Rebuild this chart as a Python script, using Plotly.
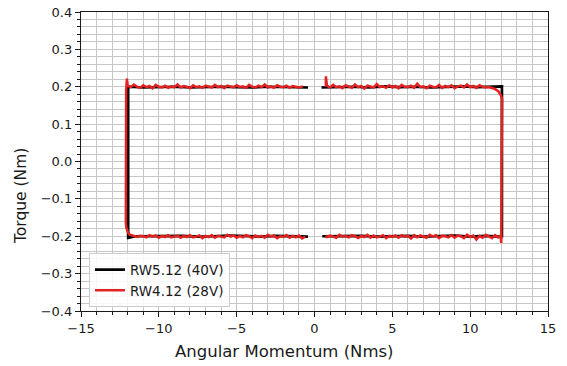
import plotly.graph_objects as go

# ---------------- data ----------------
# RW5.12 (40V) - black
bk_a_x = [0.45, 1.5, 2.5, 3.5, 4.5, 5.5, 6.5, 7.5, 8.5, 9.5, 10.5, 11.5, 11.9, 12.04, 12.04, 11.9, 11.0, 10.0, 9.0, 8.0, 7.0, 6.0, 5.0, 4.0, 3.0, 2.0, 1.0, 0.5]
bk_a_y = [0.198, 0.199, 0.200, 0.198, 0.201, 0.199, 0.200, 0.198, 0.199, 0.201, 0.199, 0.200, 0.202, 0.201, -0.200, -0.201, -0.199, -0.201, -0.198, -0.200, -0.201, -0.199, -0.200, -0.201, -0.199, -0.200, -0.201, -0.200]
bk_b_x = [-0.42, -1.5, -2.5, -3.5, -4.5, -5.5, -6.5, -7.5, -8.5, -9.5, -10.5, -11.5, -11.85, -11.97, -11.97, -11.9, -11.0, -10.0, -9.0, -8.0, -7.0, -6.0, -5.0, -4.0, -3.0, -2.0, -1.0, -0.42]
bk_b_y = [-0.201, -0.200, -0.199, -0.201, -0.200, -0.198, -0.200, -0.201, -0.199, -0.200, -0.201, -0.200, -0.203, -0.204, 0.199, 0.200, 0.198, 0.199, 0.200, 0.198, 0.199, 0.200, 0.199, 0.198, 0.200, 0.199, 0.198, 0.198]

# RW4.12 (28V) - red, top-right run (0.73 -> 12.05) and down the right side
rd_tr_x = [0.73, 0.73, 0.8, 1.0, 1.2, 1.4, 1.6, 1.8, 2.0, 2.2, 2.4, 2.6, 2.8, 3.0, 3.2, 3.4, 3.6, 3.8, 4.0, 4.2, 4.4, 4.6, 4.8, 5.0, 5.2, 5.4, 5.6, 5.8, 6.0, 6.2, 6.4, 6.6, 6.8, 7.0, 7.2, 7.4, 7.6, 7.8, 8.0, 8.2, 8.4, 8.6, 8.8, 9.0, 9.2, 9.4, 9.6, 9.8, 10.0, 10.2, 10.4, 10.6, 10.8, 11.0, 11.2, 11.4, 11.6, 11.8, 11.95, 12.05, 12.05, 12.02, 12.0, 12.0]
rd_tr_y = [0.200, 0.228, 0.203, 0.198, 0.205, 0.199, 0.201, 0.196, 0.204, 0.200, 0.197, 0.206, 0.199, 0.202, 0.195, 0.203, 0.200, 0.198, 0.207, 0.199, 0.201, 0.197, 0.204, 0.198, 0.202, 0.196, 0.205, 0.200, 0.199, 0.203, 0.197, 0.208, 0.199, 0.201, 0.196, 0.203, 0.200, 0.198, 0.205, 0.197, 0.202, 0.199, 0.204, 0.196, 0.201, 0.203, 0.198, 0.206, 0.199, 0.202, 0.197, 0.204, 0.200, 0.198, 0.199, 0.197, 0.194, 0.188, 0.179, 0.168, 0.150, 0.000, -0.190, -0.218]
# red, bottom-right run (12.0 -> 0.7)
rd_br_x = [11.95, 11.8, 11.6, 11.4, 11.2, 11.0, 10.8, 10.6, 10.4, 10.2, 10.0, 9.8, 9.6, 9.4, 9.2, 9.0, 8.8, 8.6, 8.4, 8.2, 8.0, 7.8, 7.6, 7.4, 7.2, 7.0, 6.8, 6.6, 6.4, 6.2, 6.0, 5.8, 5.6, 5.4, 5.2, 5.0, 4.8, 4.6, 4.4, 4.2, 4.0, 3.8, 3.6, 3.4, 3.2, 3.0, 2.8, 2.6, 2.4, 2.2, 2.0, 1.8, 1.6, 1.4, 1.2, 1.0, 0.8, 0.7]
rd_br_y = [-0.199, -0.203, -0.197, -0.205, -0.200, -0.196, -0.204, -0.199, -0.209, -0.198, -0.202, -0.196, -0.205, -0.200, -0.198, -0.204, -0.197, -0.203, -0.200, -0.199, -0.205, -0.197, -0.201, -0.196, -0.204, -0.200, -0.198, -0.203, -0.197, -0.206, -0.199, -0.201, -0.197, -0.204, -0.198, -0.202, -0.199, -0.205, -0.197, -0.201, -0.203, -0.198, -0.204, -0.196, -0.202, -0.199, -0.205, -0.200, -0.197, -0.203, -0.199, -0.201, -0.196, -0.204, -0.200, -0.198, -0.202, -0.200]
# red, bottom-left run (-0.6 -> -12.1) then up the left side
rd_bl_x = [-0.6, -0.8, -1.0, -1.2, -1.4, -1.6, -1.8, -2.0, -2.2, -2.4, -2.6, -2.8, -3.0, -3.2, -3.4, -3.6, -3.8, -4.0, -4.2, -4.4, -4.6, -4.8, -5.0, -5.2, -5.4, -5.6, -5.8, -6.0, -6.2, -6.4, -6.6, -6.8, -7.0, -7.2, -7.4, -7.6, -7.8, -8.0, -8.2, -8.4, -8.6, -8.8, -9.0, -9.2, -9.4, -9.6, -9.8, -10.0, -10.2, -10.4, -10.6, -10.8, -11.0, -11.2, -11.4, -11.6, -11.75, -11.9, -12.0, -12.08, -12.12, -12.12, -12.1, -12.05]
rd_bl_y = [-0.201, -0.206, -0.198, -0.203, -0.199, -0.204, -0.197, -0.202, -0.200, -0.205, -0.198, -0.201, -0.196, -0.204, -0.199, -0.202, -0.198, -0.205, -0.200, -0.197, -0.203, -0.199, -0.204, -0.198, -0.201, -0.196, -0.203, -0.200, -0.199, -0.204, -0.197, -0.202, -0.199, -0.205, -0.198, -0.201, -0.203, -0.197, -0.202, -0.199, -0.204, -0.198, -0.200, -0.203, -0.197, -0.202, -0.199, -0.204, -0.198, -0.201, -0.197, -0.203, -0.200, -0.199, -0.202, -0.200, -0.198, -0.195, -0.188, -0.178, -0.165, 0.000, 0.190, 0.222]
# red, top-left run (-12.0 -> -0.75)
rd_tl_x = [-12.0, -11.8, -11.6, -11.4, -11.2, -11.0, -10.8, -10.6, -10.4, -10.2, -10.0, -9.8, -9.6, -9.4, -9.2, -9.0, -8.8, -8.6, -8.4, -8.2, -8.0, -7.8, -7.6, -7.4, -7.2, -7.0, -6.8, -6.6, -6.4, -6.2, -6.0, -5.8, -5.6, -5.4, -5.2, -5.0, -4.8, -4.6, -4.4, -4.2, -4.0, -3.8, -3.6, -3.4, -3.2, -3.0, -2.8, -2.6, -2.4, -2.2, -2.0, -1.8, -1.6, -1.4, -1.2, -1.0, -0.75]
rd_tl_y = [0.203, 0.199, 0.206, 0.200, 0.197, 0.204, 0.199, 0.202, 0.196, 0.205, 0.200, 0.198, 0.203, 0.197, 0.201, 0.199, 0.206, 0.198, 0.202, 0.200, 0.196, 0.204, 0.199, 0.201, 0.197, 0.203, 0.200, 0.198, 0.205, 0.199, 0.202, 0.196, 0.203, 0.200, 0.198, 0.204, 0.199, 0.201, 0.197, 0.205, 0.200, 0.198, 0.203, 0.199, 0.206, 0.198, 0.201, 0.197, 0.204, 0.200, 0.199, 0.203, 0.197, 0.202, 0.200, 0.198, 0.201]

x_ticks = [-15, -10, -5, 0, 5, 10, 15]
y_ticks = [-0.4, -0.3, -0.2, -0.1, 0.0, 0.1, 0.2, 0.3, 0.4]
x_title = "Angular Momentum (Nms)"
y_title = "Torque (Nm)"
names = ["RW5.12 (40V)", "RW4.12 (28V)"]

# ---------------- figure ----------------
black_x = bk_a_x + [None] + bk_b_x
black_y = bk_a_y + [None] + bk_b_y
red_x = rd_tr_x + rd_br_x + [None] + rd_bl_x + rd_tl_x
red_y = rd_tr_y + rd_br_y + [None] + rd_bl_y + rd_tl_y

FONT = "DejaVu Sans"
TXT = "#1a1a1a"
fig = go.Figure()
fig.add_trace(go.Scatter(x=black_x, y=black_y, mode="lines", name=names[0],
                         line=dict(color="#000000", width=2.7), connectgaps=False))
fig.add_trace(go.Scatter(x=red_x, y=red_y, mode="lines", name=names[1],
                         line=dict(color="#e32222", width=2.5), connectgaps=False))

grid = "#c6c6c6"
fig.update_layout(
    width=567, height=366,
    margin=dict(l=81, r=19, t=12, b=55),
    plot_bgcolor="white", paper_bgcolor="white",
    font=dict(family=FONT, size=13, color=TXT),
    showlegend=True,
    legend=dict(x=0.017, y=0.012, xanchor="left", yanchor="bottom",
                bgcolor="rgba(255,255,255,0.85)", bordercolor="#cccccc", borderwidth=1,
                font=dict(family=FONT, size=13.5, color=TXT),
                tracegroupgap=0, itemwidth=30),
    xaxis=dict(range=[-15, 15], tickvals=x_ticks,
               ticktext=[("\u2212" + str(-v)) if v < 0 else str(v) for v in x_ticks],
               automargin=False, tickfont=dict(size=13),
               ticks="outside", ticklen=5, tickwidth=1.2, tickcolor=TXT,
               showline=True, linecolor=TXT, linewidth=1.3, mirror=True,
               showgrid=True, gridcolor=grid, gridwidth=1.4, zeroline=False,
               minor=dict(dtick=1, ticks="outside", ticklen=3, tickwidth=1, tickcolor=TXT,
                          showgrid=True, gridcolor=grid, gridwidth=1.4)),
    yaxis=dict(range=[-0.4, 0.4], tickvals=y_ticks,
               ticktext=[("\u2212" + f"{-v:.1f}") if v < 0 else f"{v:.1f}" for v in y_ticks],
               automargin=False, tickfont=dict(size=13),
               ticks="outside", ticklen=5, tickwidth=1.2, tickcolor=TXT,
               showline=True, linecolor=TXT, linewidth=1.3, mirror=True,
               showgrid=True, gridcolor=grid, gridwidth=1.4, zeroline=False,
               minor=dict(dtick=0.02, tick0=0, ticks="outside", ticklen=3, tickwidth=1, tickcolor=TXT,
                          showgrid=True, gridcolor=grid, gridwidth=1.4)),
    annotations=[
        dict(text=x_title, xref="paper", yref="paper", x=0.4347, y=-0.1338,
             xanchor="center", yanchor="middle", showarrow=False,
             font=dict(family=FONT, size=16.5, color=TXT)),
        dict(text=y_title, xref="paper", yref="paper", x=-0.1274, y=0.383,
             xanchor="center", yanchor="middle", showarrow=False, textangle=-90,
             font=dict(family=FONT, size=15.5, color=TXT)),
    ],
)

fig.write_html("out.html", config={"displayModeBar": False},
               post_script="document.body.style.margin='0';")
